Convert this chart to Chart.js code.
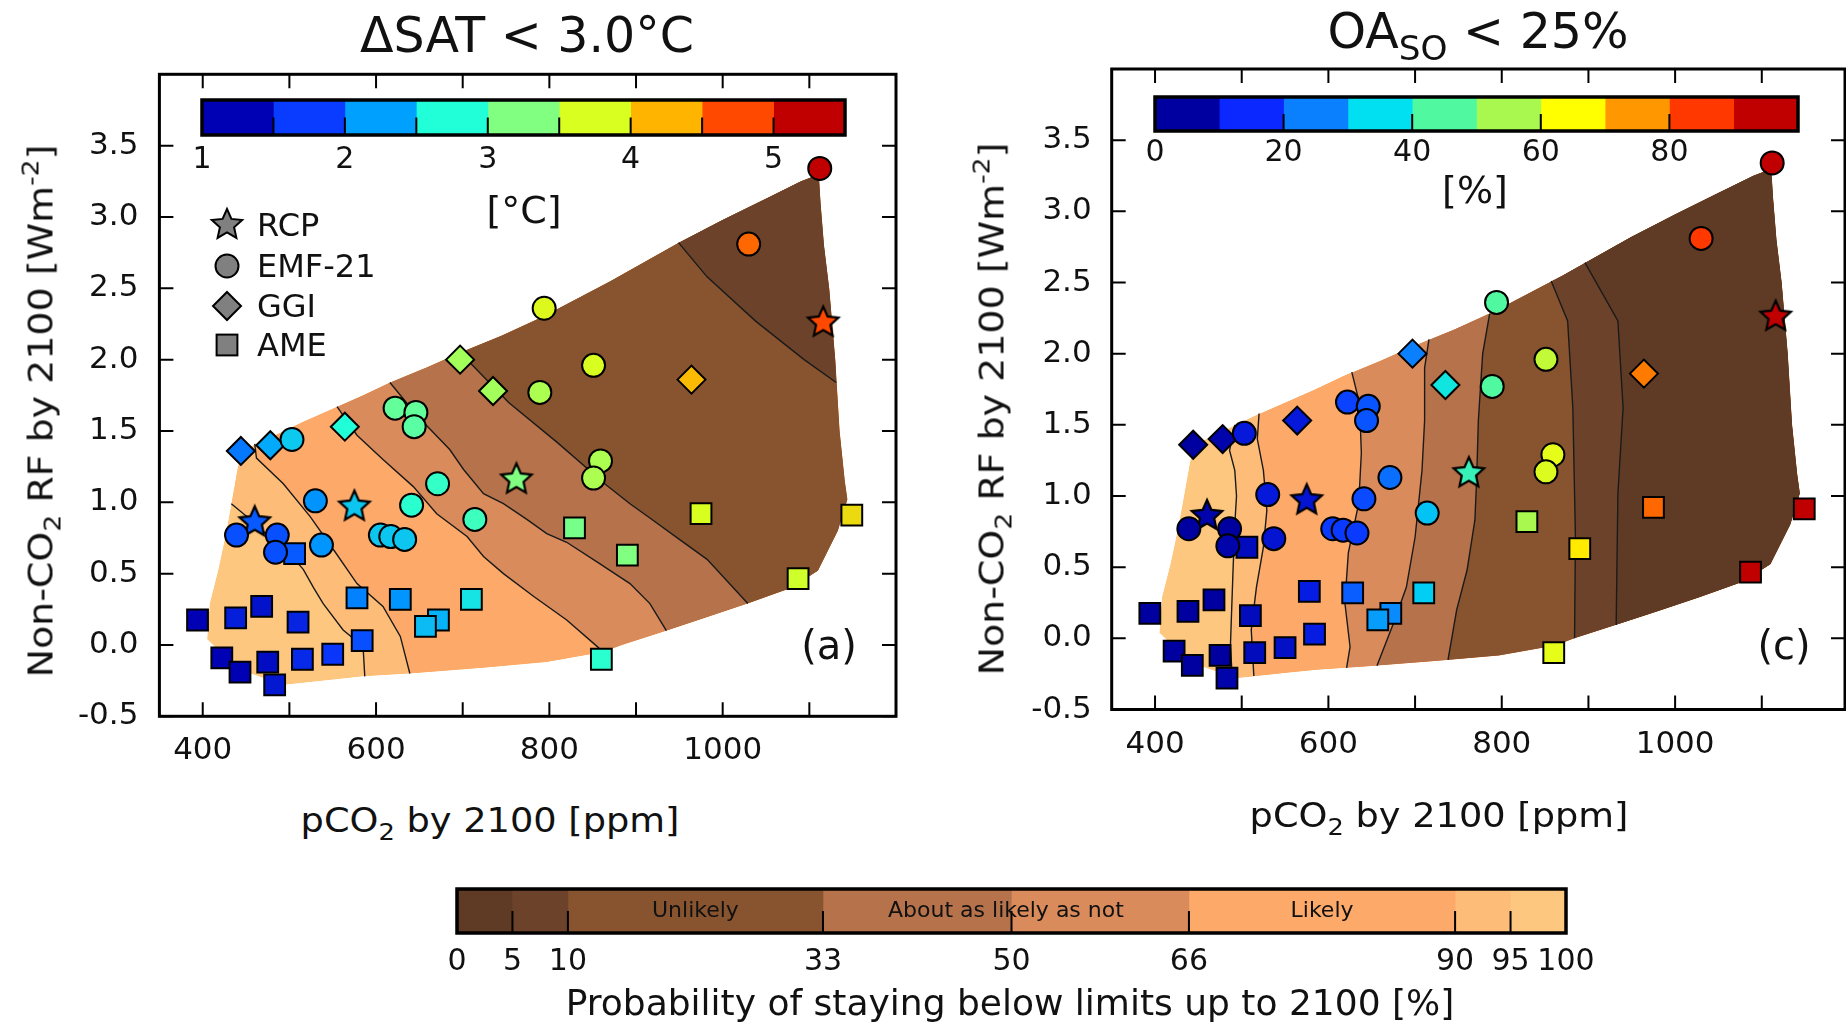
<!DOCTYPE html>
<html>
<head>
<meta charset="utf-8">
<title>Probability of staying below limits</title>
<script src="https://cdn.jsdelivr.net/npm/chart.js@4.4.1/dist/chart.umd.min.js"></script>
<style>
  body { margin:0; width:1846px; height:1027px; background:#fff; position:relative; overflow:hidden;
         font-family:"DejaVu Sans", sans-serif; color:#111; }
  canvas { position:absolute; }
  .t { position:absolute; white-space:nowrap; line-height:1; }
  .sub { font-size:0.7em; position:relative; top:0.35em; }
  .sup { font-size:0.7em; position:relative; top:-0.6em; }
</style>
</head>
<body>
<canvas id="satChart" width="900" height="800" style="left:0;top:0"></canvas>
<canvas id="oaChart" width="906" height="800" style="left:940px;top:0"></canvas>
<canvas id="satBar" width="723" height="80" style="left:162px;top:96px"></canvas>
<canvas id="oaBar" width="723" height="80" style="left:1115px;top:93px"></canvas>
<canvas id="probBar" width="1189" height="110" style="left:417px;top:885px"></canvas>

<div class="t" style="left:527px;top:35px;font-size:49px;transform:translate(-50%,-50%)">&Delta;SAT &lt; 3.0&deg;C</div>
<div class="t" style="left:1478px;top:31px;font-size:49px;transform:translate(-50%,-50%)">OA<span class="sub">SO</span> &lt; 25%</div>

<div class="t" style="left:41px;top:411px;font-size:33px;transform:translate(-50%,-50%) rotate(-90deg) scaleX(1.15)">Non-CO<span class="sub">2</span> RF by 2100 [Wm<span class="sup">-2</span>]</div>
<div class="t" style="left:992px;top:409px;font-size:33px;transform:translate(-50%,-50%) rotate(-90deg) scaleX(1.15)">Non-CO<span class="sub">2</span> RF by 2100 [Wm<span class="sup">-2</span>]</div>

<div class="t" style="left:490px;top:820px;font-size:34px;transform:translate(-50%,-50%) scaleX(1.08)">pCO<span class="sub">2</span> by 2100 [ppm]</div>
<div class="t" style="left:1439px;top:815px;font-size:34px;transform:translate(-50%,-50%) scaleX(1.08)">pCO<span class="sub">2</span> by 2100 [ppm]</div>

<div class="t" style="left:524px;top:210px;font-size:38px;transform:translate(-50%,-50%)">[&deg;C]</div>
<div class="t" style="left:1475px;top:190px;font-size:38px;transform:translate(-50%,-50%)">[%]</div>

<div class="t" style="left:829px;top:645px;font-size:40px;transform:translate(-50%,-50%)">(a)</div>
<div class="t" style="left:1784px;top:645px;font-size:40px;transform:translate(-50%,-50%)">(c)</div>

<div class="t" style="left:1010px;top:1003px;font-size:36px;transform:translate(-50%,-50%)">Probability of staying below limits up to 2100 [%]</div>

<svg id="legendSym" style="position:absolute;left:205px;top:203px" width="44" height="166"></svg>
<div id="legendTxt"></div>

<script>
// ---- scenario positions (shared by both panels): pCO2 by 2100 [ppm], non-CO2 RF [W m-2]
const RCP_X = [460, 575, 762, 1116];
const RCP_Y = [0.86, 0.97, 1.16, 2.26];
const RCP_SAT = [1.9, 2.45, 3.25, 4.75];
const RCP_OA = [6, 10, 42, 95];

const EMF_X = [1112, 1030, 794, 851, 789, 622, 646, 644, 503, 671, 859, 851, 641, 714, 530, 439, 486, 484, 537, 605, 617, 633];
const EMF_Y = [3.34, 2.81, 2.36, 1.96, 1.77, 1.66, 1.63, 1.53, 1.44, 1.13, 1.29, 1.17, 0.98, 0.88, 1.01, 0.77, 0.77, 0.65, 0.70, 0.77, 0.76, 0.74];
const EMF_SAT = [5.3, 4.6, 3.8, 3.75, 3.5, 3.1, 3.1, 3.05, 2.46, 2.85, 3.5, 3.5, 2.8, 2.9, 2.19, 1.85, 1.85, 1.85, 2.2, 2.45, 2.45, 2.45];
const EMF_OA = [95, 85, 45, 58, 45, 18, 20, 20, 11, 23, 62, 61, 19, 32, 11, 5, 5, 6, 10, 17, 17, 17];

const GGI_X = [444, 478, 564, 697, 735, 964];
const GGI_Y = [1.36, 1.40, 1.53, 2.00, 1.78, 1.86];
const GGI_SAT = [2.05, 2.3, 2.75, 3.45, 3.45, 4.2];
const GGI_OA = [5, 6, 11, 25, 37, 78];

const AME_X = [394, 438, 468, 510, 506, 578, 628, 672, 657, 710, 422, 443, 475, 483, 515, 550, 584, 860, 829, 890, 975, 1149, 1087];
const AME_Y = [0.175, 0.19, 0.27, 0.16, 0.64, 0.33, 0.32, 0.175, 0.13, 0.32, -0.09, -0.19, -0.12, -0.28, -0.10, -0.065, 0.03, -0.10, 0.82, 0.63, 0.92, 0.91, 0.465];
const AME_SAT = [1.2, 1.5, 1.4, 1.55, 1.9, 2.1, 2.2, 2.35, 2.4, 2.6, 1.25, 1.2, 1.35, 1.45, 1.6, 1.7, 1.85, 2.8, 3.2, 3.25, 3.75, 4.0, 3.7];
const AME_OA = [2, 3, 5, 8, 8, 12, 21, 26, 28, 33, 3, 3, 5, 6, 8, 9, 12, 62, 55, 67, 80, 97, 95];

// ---- scenario space covered by the probability field (outline, clockwise)
const DOMAIN = [
  [445, 1.36], [480, 1.46], [514, 1.56], [555, 1.67], [585, 1.75], [616, 1.84], [660, 1.95], [697, 2.05],
  [745, 2.17], [792, 2.30], [870, 2.55], [949, 2.82], [1000, 2.98], [1050, 3.13], [1090, 3.25], [1111, 3.30],
  [1113, 3.10], [1117, 2.80], [1123, 2.50], [1130, 2.00], [1135, 1.50], [1141, 1.15], [1144, 1.02],
  [1133, 0.80], [1110, 0.52], [1079, 0.40], [1029, 0.29], [980, 0.19], [935, 0.10], [884, 0.0],
  [862, -0.05], [797, -0.12], [724, -0.16], [639, -0.20], [587, -0.22], [555, -0.24], [493, -0.28],
  [455, -0.20], [420, -0.05], [405, 0.04], [408, 0.29], [418, 0.53], [426, 0.76], [433, 0.99], [440, 1.23]
];

// ---- probability contours (panel a: dSAT < 3 degC)
const SAT_LEVELS = [95, 90, 66, 50, 33, 10];
const SAT_LINES = [
  [[433, 0.99], [455, 0.88], [480, 0.74], [500, 0.64], [516, 0.53], [528, 0.40], [539, 0.29], [562, 0.105], [585, -0.01], [587, -0.22]],
  [[460, 1.41], [462, 1.31], [493, 1.13], [524, 0.90], [553, 0.65], [578, 0.43], [608, 0.27], [628, 0.06], [639, -0.20]],
  [[555, 1.67], [578, 1.47], [608, 1.30], [643, 1.11], [670, 0.92], [705, 0.76], [724, 0.62], [747, 0.50], [782, 0.34], [820, 0.175], [855, -0.01], [862, -0.05]],
  [[616, 1.84], [639, 1.67], [658, 1.54], [685, 1.37], [701, 1.23], [724, 1.06], [747, 0.99], [774, 0.88], [797, 0.78], [820, 0.72], [858, 0.57], [893, 0.43], [916, 0.29], [935, 0.10]],
  [[697, 2.05], [753, 1.70], [809, 1.42], [866, 1.12], [893, 0.99], [916, 0.89], [950, 0.74], [982, 0.60], [1029, 0.29]],
  [[949, 2.82], [982, 2.58], [1038, 2.27], [1094, 2.00], [1131, 1.84]]
];

// ---- probability contours (panel c: OA_SO < 25 %)
const OA_LEVELS = [95, 90, 66, 50, 33, 10, 5];
const OA_LINES = [
  [[492, 1.50], [486, 1.32], [492, 1.18], [494, 1.00], [492, 0.80], [490, 0.48], [488, 0.13], [487, -0.05], [489, -0.27]],
  [[520, 1.58], [518, 1.40], [525, 1.18], [529, 0.90], [525, 0.64], [517, 0.36], [511, 0.06], [514, -0.265]],
  [[627, 1.87], [636, 1.65], [638, 1.30], [635, 0.95], [623, 0.60], [619, 0.25], [625, -0.06], [621, -0.207]],
  [[716, 2.10], [711, 1.90], [711, 1.53], [708, 1.18], [700, 0.71], [690, 0.36], [675, 0.105], [656, -0.192]],
  [[786, 2.28], [778, 2.00], [773, 1.53], [771, 1.11], [769, 0.83], [760, 0.48], [748, 0.20], [738, -0.152]],
  [[857, 2.51], [876, 2.23], [882, 1.62], [885, 0.71], [884, 0.0]],
  [[896, 2.64], [934, 2.23], [940, 1.62], [934, 1.02], [932, 0.094]]
];

// ---- colour scales
const PROB_EDGES = [0, 5, 10, 33, 50, 66, 90, 95, 100];
const PROB_COLORS = ['#5f3b25', '#6c432a', '#88542f', '#b6724b', '#da8b5b', '#fca96a', '#fdbd79', '#fec780'];
const PROB_MARKS = [5, 10, 33, 50, 66, 90, 95];
const PROB_CATS = ['Unlikely', 'About as likely as not', 'Likely'];
const PROB_CAT_RANGES = [[10, 33], [33, 66], [66, 90]];

const SAT_EDGES = [1, 1.5, 2, 2.5, 3, 3.5, 4, 4.5, 5, 5.5];
const SAT_COLORS = ['#0000b4', '#0a3cff', '#00a0ff', '#20ffd8', '#80ff80', '#d8ff20', '#ffb400', '#ff4800', '#c00000'];
const SAT_CB_TICKS = [1, 2, 3, 4, 5];

const OA_EDGES = [0, 10, 20, 30, 40, 50, 60, 70, 80, 90, 100];
const OA_COLORS = ['#0000a0', '#0a28ff', '#0a80ff', '#00e0f0', '#50f8a0', '#a8f850', '#ffff00', '#ff9800', '#ff3800', '#c00000'];
const OA_CB_TICKS = [0, 20, 40, 60, 80];
const OA_CB_MARKS = [20, 40, 60, 80];

const X_TICKS = [400, 500, 600, 700, 800, 900, 1000, 1100];
const Y_TICKS = [-0.5, 0, 0.5, 1, 1.5, 2, 2.5, 3, 3.5];

Chart.defaults.font.family = '"DejaVu Sans", sans-serif';
Chart.defaults.color = '#111';

function hexRgb(h) { const n = parseInt(h.slice(1), 16); return [n >> 16, (n >> 8) & 255, n & 255]; }

// continuous colour between the centres of the colour bar segments
function mapColor(v, edges, colors) {
  const c = colors.map((_, i) => (edges[i] + edges[i + 1]) / 2);
  if (v <= c[0]) return colors[0];
  if (v >= c[c.length - 1]) return colors[colors.length - 1];
  let i = 0;
  while (v > c[i + 1]) i++;
  const t = (v - c[i]) / (c[i + 1] - c[i]);
  const a = hexRgb(colors[i]), b = hexRgb(colors[i + 1]);
  return 'rgb(' + a.map((q, k) => Math.round(q + (b[k] - q) * t)).join(',') + ')';
}

function probColor(level) { return PROB_COLORS[PROB_EDGES.indexOf(level) - 1]; }

// polygon on the low-probability side of a contour (toward the domain's top corner)
function darkSide(line) {
  const n = DOMAIN.length;
  const near = p => {
    let best = 0, dist = Infinity;
    DOMAIN.forEach((q, i) => {
      const d = ((q[0] - p[0]) / 165) ** 2 + (q[1] - p[1]) ** 2;
      if (d < dist) { dist = d; best = i; }
    });
    return best;
  };
  const is = near(line[0]), ie = near(line[line.length - 1]);
  const peak = DOMAIN.reduce((b, q, i) => (q[1] > DOMAIN[b][1] ? i : b), 0);
  for (const dir of [1, -1]) {
    const path = [];
    let k = ie, hit = false;
    while (true) {
      path.push(DOMAIN[k]);
      if (k === peak) hit = true;
      if (k === is) break;
      k = (k + dir + n) % n;
    }
    if (hit) return line.concat(path);
  }
  return line;
}

const bandsPlugin = {
  id: 'bands',
  beforeDatasetsDraw(chart, args, opts) {
    const { ctx, scales: { x, y } } = chart;
    const trace = pts => {
      ctx.beginPath();
      pts.forEach(([a, b], i) => {
        const px = x.getPixelForValue(a), py = y.getPixelForValue(b);
        if (i) ctx.lineTo(px, py); else ctx.moveTo(px, py);
      });
      ctx.closePath();
    };
    ctx.save();
    trace(DOMAIN);
    ctx.clip();
    ctx.fillStyle = probColor(100);
    ctx.fill();
    opts.lines.forEach((line, k) => {
      trace(darkSide(line));
      ctx.fillStyle = probColor(opts.levels[k]);
      ctx.fill();
    });
    ctx.restore();
  }
};

const framePlugin = {
  id: 'frame',
  afterDraw(chart) {
    const { ctx, chartArea: a, scales: { x, y } } = chart;
    ctx.save();
    ctx.strokeStyle = '#000';
    ctx.lineWidth = 2;
    ctx.beginPath();
    x.ticks.forEach(t => {
      const p = x.getPixelForValue(t.value);
      ctx.moveTo(p, a.bottom); ctx.lineTo(p, a.bottom - 14);
      ctx.moveTo(p, a.top); ctx.lineTo(p, a.top + 14);
    });
    y.ticks.forEach(t => {
      const p = y.getPixelForValue(t.value);
      ctx.moveTo(a.left, p); ctx.lineTo(a.left + 14, p);
      ctx.moveTo(a.right, p); ctx.lineTo(a.right - 14, p);
    });
    ctx.stroke();
    ctx.lineWidth = 3;
    ctx.strokeRect(a.left, a.top, a.right - a.left, a.bottom - a.top);
    ctx.restore();
  }
};

const cbarPlugin = {
  id: 'cbar',
  afterDatasetsDraw(chart, args, opts) {
    const { ctx, chartArea: a, scales: { x } } = chart;
    const h = a.bottom - a.top;
    ctx.save();
    ctx.strokeStyle = '#000';
    ctx.lineWidth = 2;
    ctx.beginPath();
    opts.marks.forEach(v => {
      const p = x.getPixelForValue(v);
      ctx.moveTo(p, a.bottom); ctx.lineTo(p, a.bottom - h * 0.5);
    });
    ctx.stroke();
    if (opts.cats) {
      ctx.fillStyle = '#111';
      ctx.font = '22px "DejaVu Sans", sans-serif';
      ctx.textAlign = 'center';
      ctx.textBaseline = 'middle';
      opts.cats.forEach((c, i) => {
        const [lo, hi] = opts.catRanges[i];
        ctx.fillText(c, x.getPixelForValue((lo + hi) / 2), (a.top + a.bottom) / 2);
      });
    }
    ctx.lineWidth = 3.5;
    ctx.strokeRect(a.left, a.top, a.right - a.left, h);
    ctx.restore();
  }
};

const starCache = {};
function starImg(fill) {
  if (starCache[fill]) return starCache[fill];
  const c = document.createElement('canvas');
  c.width = c.height = 38;
  const g = c.getContext('2d');
  g.beginPath();
  for (let i = 0; i < 10; i++) {
    const r = i % 2 ? 7.5 : 16, a = -Math.PI / 2 + i * Math.PI / 5;
    g.lineTo(19 + r * Math.cos(a), 19 + r * Math.sin(a));
  }
  g.closePath();
  g.fillStyle = fill; g.fill();
  g.lineWidth = 2.2; g.lineJoin = 'miter'; g.strokeStyle = '#000'; g.stroke();
  return (starCache[fill] = c);
}

const pts = (xs, ys) => xs.map((x, i) => ({ x, y: ys[i] }));

function panel(id, vals, edges, colors, lines, levels, geom) {
  const col = arr => arr.map(v => mapColor(v, edges, colors));
  const marker = { pointBorderColor: '#000', pointBorderWidth: 2, showLine: false };
  const datasets = [
    Object.assign({ data: pts(EMF_X, EMF_Y), pointStyle: 'circle', pointRadius: 11.5, pointBackgroundColor: col(vals.emf) }, marker),
    Object.assign({ data: pts(RCP_X, RCP_Y), pointStyle: col(vals.rcp).map(starImg), pointRadius: 16 }, marker),
    Object.assign({ data: pts(GGI_X, GGI_Y), pointStyle: 'rectRot', pointRadius: 14, pointBackgroundColor: col(vals.ggi) }, marker),
    Object.assign({ data: pts(AME_X, AME_Y), pointStyle: 'rect', pointRadius: 14.7, pointBackgroundColor: col(vals.ame) }, marker)
  ].concat(lines.map(l => ({
    data: l.map(p => ({ x: p[0], y: p[1] })), showLine: true, pointRadius: 0,
    borderColor: '#1a1a1a', borderWidth: 1.4, fill: false, tension: 0
  })));

  new Chart(document.getElementById(id), {
    type: 'scatter',
    data: { datasets },
    options: {
      responsive: false, animation: false, events: [],
      layout: { autoPadding: false, padding: { left: 0, top: geom.top, right: geom.right, bottom: 0 } },
      plugins: { legend: { display: false }, tooltip: { enabled: false }, bands: { lines, levels } },
      scales: {
        x: {
          type: 'linear', min: 350, max: geom.xMax,
          afterBuildTicks: s => { s.ticks = X_TICKS.map(v => ({ value: v })); },
          afterFit: s => { s.height = geom.xh; },
          grid: { display: false, drawTicks: false }, border: { display: false },
          ticks: { autoSkip: false, maxRotation: 0, padding: geom.xpad, font: { size: 31 },
                   callback: v => (v % 200 === 0 ? String(v) : '') }
        },
        y: {
          type: 'linear', min: -0.5, max: 4.0,
          afterBuildTicks: s => { s.ticks = Y_TICKS.map(v => ({ value: v })); },
          afterFit: s => { s.width = geom.yw; },
          grid: { display: false, drawTicks: false }, border: { display: false },
          ticks: { autoSkip: false, padding: geom.ypad, font: { size: 31 }, callback: v => v.toFixed(1) }
        }
      }
    },
    plugins: [bandsPlugin, framePlugin]
  });
}

function colorbar(id, edges, colors, tickVals, marks, geom, cats, catRanges) {
  new Chart(document.getElementById(id), {
    type: 'bar',
    data: {
      labels: [''],
      datasets: colors.map((c, i) => ({
        data: [[edges[i], edges[i + 1]]], backgroundColor: c, borderWidth: 0,
        grouped: false, barPercentage: 1, categoryPercentage: 1
      }))
    },
    options: {
      indexAxis: 'y', responsive: false, animation: false, events: [],
      layout: { autoPadding: false, padding: { left: 40, right: 40, top: 4, bottom: 0 } },
      plugins: { legend: { display: false }, tooltip: { enabled: false }, cbar: { marks, cats, catRanges } },
      scales: {
        x: {
          type: 'linear', min: edges[0], max: edges[edges.length - 1],
          afterBuildTicks: s => { s.ticks = tickVals.map(v => ({ value: v })); },
          afterFit: s => { s.height = geom.xh; },
          grid: { display: false, drawTicks: false }, border: { display: false },
          ticks: { autoSkip: false, maxRotation: 0, padding: geom.pad, font: { size: 30 } }
        },
        y: { display: false }
      }
    },
    plugins: [cbarPlugin]
  });
}

panel('satChart', { rcp: RCP_SAT, emf: EMF_SAT, ggi: GGI_SAT, ame: AME_SAT }, SAT_EDGES, SAT_COLORS,
      SAT_LINES, SAT_LEVELS, { top: 74.3, right: 4, xMax: 1200, xh: 83.7, yw: 159.4, xpad: 16, ypad: 21 });
panel('oaChart', { rcp: RCP_OA, emf: EMF_OA, ggi: GGI_OA, ame: AME_OA }, OA_EDGES, OA_COLORS,
      OA_LINES, OA_LEVELS, { top: 69, right: 1, xMax: 1196, xh: 90.5, yw: 171.7, xpad: 17, ypad: 20 });

colorbar('satBar', SAT_EDGES, SAT_COLORS, SAT_CB_TICKS, SAT_EDGES.slice(1, -1), { xh: 41, pad: 7 });
colorbar('oaBar', OA_EDGES, OA_COLORS, OA_CB_TICKS, OA_CB_MARKS, { xh: 42, pad: 4 });
colorbar('probBar', PROB_EDGES, PROB_COLORS, PROB_EDGES, PROB_MARKS, { xh: 62, pad: 11 }, PROB_CATS, PROB_CAT_RANGES);

// ---- marker legend of panel (a)
const LEGEND = ['RCP', 'EMF-21', 'GGI', 'AME'];
(function () {
  const svg = document.getElementById('legendSym');
  const rows = [22, 63, 103, 142];
  const st = 'fill="#808080" stroke="#000" stroke-width="2"';
  const star = Array.from({ length: 10 }, (_, i) => {
    const a = -Math.PI / 2 + i * Math.PI / 5, q = i % 2 ? 7.5 : 16;
    return (22 + q * Math.cos(a)).toFixed(1) + ',' + (rows[0] + q * Math.sin(a)).toFixed(1);
  }).join(' ');
  svg.innerHTML =
    '<polygon points="' + star + '" ' + st + '/>' +
    '<circle cx="22" cy="' + rows[1] + '" r="11.5" ' + st + '/>' +
    '<polygon points="22,' + (rows[2] - 14) + ' 36,' + rows[2] + ' 22,' + (rows[2] + 14) + ' 8,' + rows[2] + '" ' + st + '/>' +
    '<rect x="11.6" y="' + (rows[3] - 10.4) + '" width="20.8" height="20.8" ' + st + '/>';
  const box = document.getElementById('legendTxt');
  LEGEND.forEach((txt, i) => {
    const d = document.createElement('div');
    d.className = 't';
    d.textContent = txt;
    d.style.cssText = 'left:257px;top:' + (203 + rows[i]) + 'px;font-size:32px;transform:translateY(-50%)';
    box.appendChild(d);
  });
})();
</script>
</body>
</html>
